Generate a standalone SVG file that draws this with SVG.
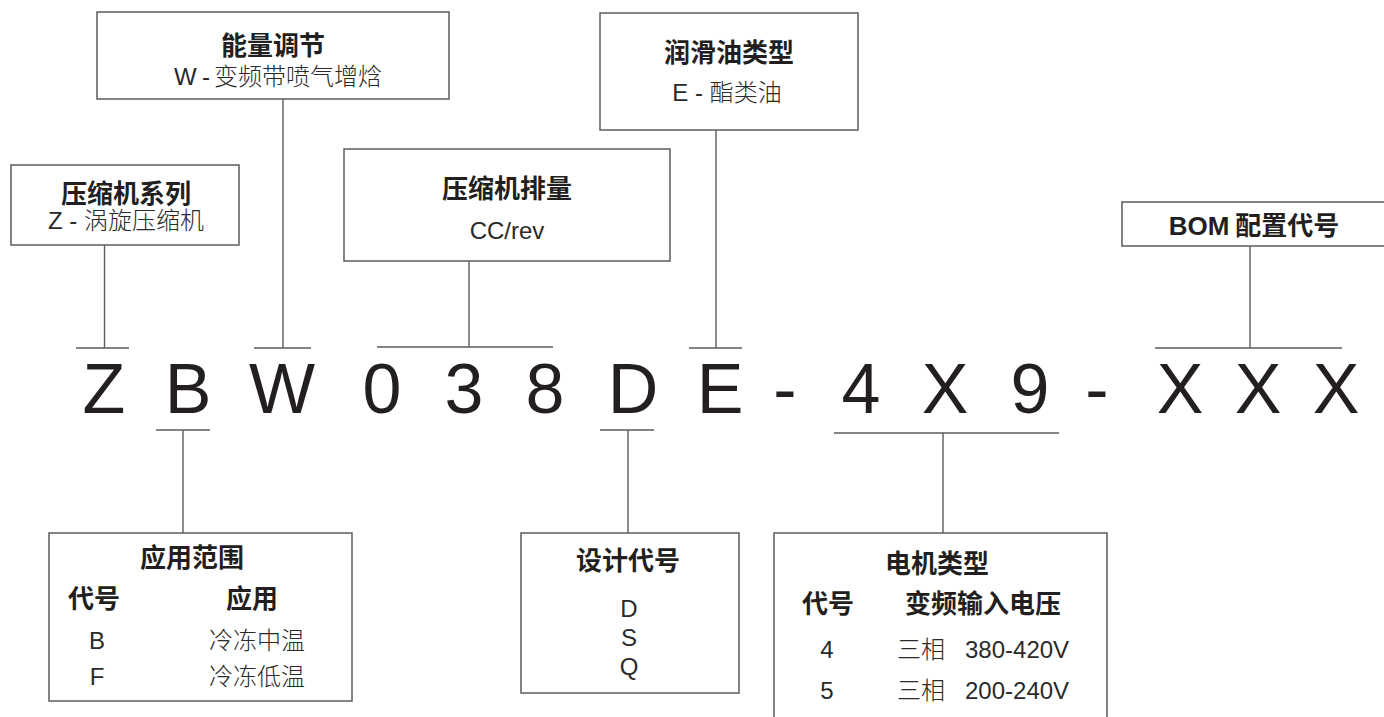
<svg xmlns="http://www.w3.org/2000/svg" width="1384" height="717" viewBox="0 0 1384 717">
<style>
.box{fill:#fff;stroke:#5c5c5c;stroke-width:1.5}
.ln{stroke:#5c5c5c;stroke-width:1.4;fill:none}
.t{font-family:"Noto Sans CJK SC","Liberation Sans",sans-serif;font-weight:700;font-size:26px;fill:#231f20;text-anchor:middle}
.s{font-family:"Liberation Sans","Noto Sans CJK SC",sans-serif;font-weight:300;font-size:24px;fill:#2a2a2a;text-anchor:middle}
.st{text-anchor:start}
.big{font-family:"Liberation Sans",Arial,sans-serif;font-size:70px;fill:#231f20;text-anchor:middle}
</style>
<rect width="1384" height="717" fill="#fff"/>
<g id="connectors">
<path class="ln" d="M104.5 245V348M76 348H129"/>
<path class="ln" d="M283 99V348M254 348H311"/>
<path class="ln" d="M469 261V347M377 347H553"/>
<path class="ln" d="M716 130V348M689 348H742"/>
<path class="ln" d="M1250 246V348M1155 348H1342"/>
<path class="ln" d="M156 430H210M183 430V533"/>
<path class="ln" d="M600 430H654M628 430V533"/>
<path class="ln" d="M834 433H1059M943 433V533"/>
</g>
<g id="code">
<text class="big" x="104" y="413">Z</text>
<text class="big" x="188" y="413">B</text>
<text class="big" x="282" y="413">W</text>
<text class="big" x="382" y="413">0</text>
<text class="big" x="464" y="413">3</text>
<text class="big" x="545" y="413">8</text>
<text class="big" x="633" y="413">D</text>
<text class="big" x="720" y="413">E</text>
<text class="big" x="785" y="413">-</text>
<text class="big" x="861" y="413">4</text>
<text class="big" x="945" y="413">X</text>
<text class="big" x="1030" y="413">9</text>
<text class="big" x="1097" y="413">-</text>
<text class="big" x="1180" y="413">X</text>
<text class="big" x="1258" y="413">X</text>
<text class="big" x="1336" y="413">X</text>
</g>
<g id="energy">
<rect class="box" x="97" y="12" width="352" height="87"/>
<text class="t" x="273" y="55">能量调节</text>
<text class="s st" x="174" y="85">W<tspan x="202">-</tspan></text>
<text class="s st" x="214" y="85" textLength="168" lengthAdjust="spacing">变频带喷气增焓</text>
</g>
<g id="series">
<rect class="box" x="11" y="165" width="228" height="80"/>
<text class="t" x="126" y="203">压缩机系列</text>
<text class="s" x="126" y="229">Z - 涡旋压缩机</text>
</g>
<g id="displacement">
<rect class="box" x="344" y="149" width="326" height="112"/>
<text class="t" x="507" y="198">压缩机排量</text>
<text class="s" x="507" y="239">CC/rev</text>
</g>
<g id="oil">
<rect class="box" x="600" y="13" width="258" height="117"/>
<text class="t" x="729" y="62">润滑油类型</text>
<text class="s" x="727" y="101">E - 酯类油</text>
</g>
<g id="bom">
<rect class="box" x="1122" y="202" width="275" height="44"/>
<text class="t" x="1254" y="235"><tspan font-family="Liberation Sans">BOM</tspan> 配置代号</text>
</g>
<g id="application">
<rect class="box" x="49" y="533" width="303" height="168"/>
<text class="t" x="192" y="567">应用范围</text>
<text class="t" x="94" y="608">代号</text>
<text class="t" x="252" y="608">应用</text>
<text class="s" x="97" y="649">B</text>
<text class="s" x="257" y="649">冷冻中温</text>
<text class="s" x="97" y="685">F</text>
<text class="s" x="257" y="685">冷冻低温</text>
</g>
<g id="design">
<rect class="box" x="521" y="533" width="218" height="160"/>
<text class="t" x="628" y="570">设计代号</text>
<text class="s" x="629" y="617">D</text>
<text class="s" x="629" y="646">S</text>
<text class="s" x="629" y="675">Q</text>
</g>
<g id="motor">
<rect class="box" x="774" y="533" width="333" height="200"/>
<text class="t" x="937" y="573">电机类型</text>
<text class="t" x="828" y="613">代号</text>
<text class="t" x="983" y="613">变频输入电压</text>
<text class="s" x="827" y="658">4</text>
<text class="s st" x="897" y="658">三相<tspan x="965">380-420V</tspan></text>
<text class="s" x="827" y="699">5</text>
<text class="s st" x="897" y="699">三相<tspan x="965">200-240V</tspan></text>
</g>
</svg>
